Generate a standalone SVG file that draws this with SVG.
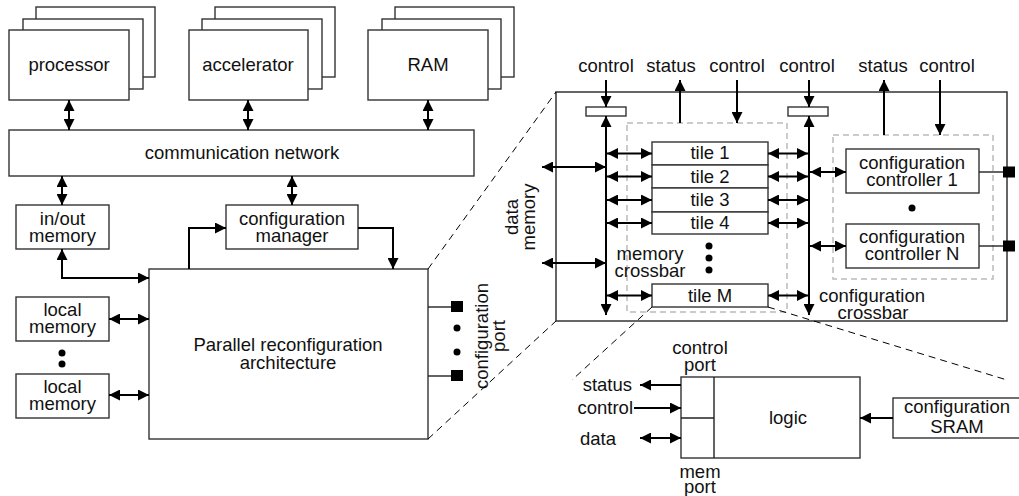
<svg xmlns="http://www.w3.org/2000/svg" width="1019" height="496" viewBox="0 0 1019 496">
  <style>
    text { font-family: "Liberation Sans", Arial, sans-serif; font-size: 18.5px; fill: #111; }
    .c { text-anchor: middle; }
    .e { text-anchor: end; }
    .box { fill: #fff; stroke: #333; stroke-width: 1.4; }
    .wire { fill: none; stroke: #000; stroke-width: 2; }
    .one { fill: none; stroke: #000; stroke-width: 2; marker-end: url(#ah); }
    .two { fill: none; stroke: #000; stroke-width: 2; marker-start: url(#ah); marker-end: url(#ah); }
    .zoomline { fill: none; stroke: #000; stroke-width: 1; stroke-dasharray: 7 5; }
    .group { fill: none; stroke: #bbb; stroke-width: 1.5; stroke-dasharray: 6 4; }
    .thin { fill: none; stroke: #222; stroke-width: 1.4; }
    .port { fill: #000; }
  </style>
  <defs>
    <marker id="ah" markerUnits="userSpaceOnUse" markerWidth="11" markerHeight="11" refX="11" refY="5.5" orient="auto-start-reverse">
      <path d="M0,0 L11,5.5 L0,11 z" fill="#000"/>
    </marker>
  </defs>

  <rect width="1019" height="496" fill="#fff"/>

  <!-- system level -->
  <g id="processor">
    <rect class="box" x="36" y="7" width="119" height="70"/>
    <rect class="box" x="23" y="19" width="120" height="70"/>
    <rect class="box" x="9" y="30" width="120" height="70"/>
    <text class="c" x="69" y="71">processor</text>
  </g>
  <g id="accelerator">
    <rect class="box" x="215" y="7" width="120" height="70"/>
    <rect class="box" x="202" y="19" width="120" height="70"/>
    <rect class="box" x="189" y="30" width="119" height="70"/>
    <text class="c" x="248" y="71">accelerator</text>
  </g>
  <g id="ram">
    <rect class="box" x="395" y="7" width="119" height="70"/>
    <rect class="box" x="382" y="19" width="119" height="70"/>
    <rect class="box" x="368" y="30" width="120" height="70"/>
    <text class="c" x="428" y="71">RAM</text>
  </g>
  <g id="communication-network">
    <rect class="box" x="9" y="130" width="465" height="46"/>
    <text class="c" x="242" y="159">communication network</text>
  </g>
  <g id="inout-memory">
    <rect class="box" x="16" y="205" width="93" height="44"/>
    <text class="c" x="62.5" y="225">in/out</text>
    <text class="c" x="62.5" y="242">memory</text>
  </g>
  <g id="configuration-manager">
    <rect class="box" x="226" y="205" width="132" height="44"/>
    <text class="c" x="292" y="225">configuration</text>
    <text class="c" x="292" y="242">manager</text>
  </g>
  <g id="local-memory-1">
    <rect class="box" x="16" y="297" width="93" height="44"/>
    <text class="c" x="62.5" y="316">local</text>
    <text class="c" x="62.5" y="333">memory</text>
  </g>
  <g id="local-memory-2">
    <rect class="box" x="16" y="374" width="93" height="44"/>
    <text class="c" x="62.5" y="393">local</text>
    <text class="c" x="62.5" y="410">memory</text>
  </g>
  <circle cx="62" cy="353" r="3.5" fill="#000"/>
  <circle cx="62" cy="364" r="3.5" fill="#000"/>

  <g id="parallel-architecture">
    <rect class="box" x="149" y="269" width="279" height="170"/>
    <text class="c" x="288" y="351">Parallel reconfiguration</text>
    <text class="c" x="288" y="369">architecture</text>
    <line class="thin" x1="428" y1="307" x2="451" y2="307"/>
    <line class="thin" x1="428" y1="376" x2="451" y2="376"/>
    <rect class="port" x="451" y="301" width="12" height="11"/>
    <rect class="port" x="451" y="370" width="12" height="11"/>
    <circle cx="457" cy="328" r="3.5" fill="#000"/>
    <circle cx="457" cy="352" r="3.5" fill="#000"/>
    <text class="c" transform="translate(488,336) rotate(-90)"><tspan x="0" y="0">configuration</tspan><tspan x="0" y="17">port</tspan></text>
  </g>

  <!-- detail of the architecture -->
  <g id="architecture-detail">
    <rect x="556" y="92" width="451" height="229" fill="#fff" stroke="#333" stroke-width="1.5"/>
    <rect class="group" x="627" y="123" width="160" height="189"/>
    <rect class="group" x="833" y="135" width="160" height="144"/>
    <text class="c" transform="translate(518,217) rotate(-90)"><tspan x="0" y="0">data</tspan><tspan x="0" y="17">memory</tspan></text>
    <text class="c" x="650" y="260">memory</text>
    <text class="c" x="650" y="277">crossbar</text>
    <text class="c" x="872" y="302">configuration</text>
    <text class="c" x="873" y="319">crossbar</text>
  </g>
  <g id="memory-crossbar-bar">
    <rect class="box" x="586" y="107" width="40" height="9"/>
  </g>
  <g id="config-crossbar-bar">
    <rect class="box" x="788" y="107" width="40" height="9"/>
  </g>
  <g id="tile-1">
    <rect class="box" x="652" y="142" width="116" height="23"/>
    <text class="c" x="710" y="159">tile 1</text>
  </g>
  <g id="tile-2">
    <rect class="box" x="652" y="165" width="116" height="23"/>
    <text class="c" x="710" y="182.5">tile 2</text>
  </g>
  <g id="tile-3">
    <rect class="box" x="652" y="188" width="116" height="24"/>
    <text class="c" x="710" y="206">tile 3</text>
  </g>
  <g id="tile-4">
    <rect class="box" x="652" y="212" width="116" height="22"/>
    <text class="c" x="710" y="229">tile 4</text>
  </g>
  <g id="tile-m">
    <rect class="box" x="652" y="284" width="116" height="23"/>
    <text class="c" x="710" y="301.5">tile M</text>
  </g>
  <circle cx="709" cy="246" r="3.5" fill="#000"/>
  <circle cx="709" cy="258" r="3.5" fill="#000"/>
  <circle cx="709" cy="270" r="3.5" fill="#000"/>
  <g id="config-controller-1">
    <rect class="box" x="846" y="149" width="133" height="44"/>
    <text class="c" x="912" y="168.5">configuration</text>
    <text class="c" x="912" y="186">controller 1</text>
    <line class="thin" x1="979" y1="172" x2="1003" y2="172"/>
    <rect class="port" x="1003" y="166.5" width="12" height="11"/>
  </g>
  <g id="config-controller-n">
    <rect class="box" x="846" y="224" width="133" height="44"/>
    <text class="c" x="912" y="243">configuration</text>
    <text class="c" x="912" y="260">controller N</text>
    <line class="thin" x1="979" y1="246" x2="1003" y2="246"/>
    <rect class="port" x="1003" y="240.5" width="12" height="11"/>
  </g>
  <circle cx="912" cy="208" r="3.5" fill="#000"/>

  <!-- top interface labels -->
  <g id="interface-labels">
    <text class="c" x="606" y="72">control</text>
    <text class="c" x="671" y="72">status</text>
    <text class="c" x="737" y="72">control</text>
    <text class="c" x="807" y="72">control</text>
    <text class="c" x="883" y="72">status</text>
    <text class="c" x="947" y="72">control</text>
  </g>

  <!-- tile internals -->
  <g id="tile-internals">
    <rect class="box" x="681" y="377" width="179" height="81"/>
    <line class="thin" x1="714" y1="377" x2="714" y2="458"/>
    <line class="thin" x1="681" y1="418" x2="714" y2="418"/>
    <text class="c" x="788" y="424">logic</text>
    <text class="c" x="700" y="354">control</text>
    <text class="c" x="700" y="371">port</text>
    <text class="c" x="700" y="478">mem</text>
    <text class="c" x="700" y="493">port</text>
    <text class="e" x="632" y="391">status</text>
    <text class="e" x="633" y="414">control</text>
    <text class="e" x="616" y="445">data</text>
  </g>
  <g id="configuration-sram">
    <rect class="box" x="893" y="398" width="130" height="40"/>
    <text class="c" x="957" y="413">configuration</text>
    <text class="c" x="957" y="433">SRAM</text>
  </g>

  <!-- connectors -->
  <g id="connectors">
    <line class="two" x1="69" y1="100" x2="69" y2="130"/>
    <line class="two" x1="248" y1="100" x2="248" y2="130"/>
    <line class="two" x1="428" y1="100" x2="428" y2="130"/>
    <line class="two" x1="62" y1="176" x2="62" y2="205"/>
    <line class="two" x1="292" y1="176" x2="292" y2="205"/>
    <polyline class="two" points="62,249 62,278 149,278"/>
    <polyline class="one" points="189,269 189,228 226,228"/>
    <polyline class="one" points="358,228 393,228 393,269"/>
    <line class="two" x1="109" y1="319" x2="149" y2="319"/>
    <line class="two" x1="109" y1="395" x2="149" y2="395"/>

    <!-- crossbar control and status -->
    <line class="one" x1="606" y1="80" x2="606" y2="107"/>
    <line class="two" x1="606" y1="116" x2="606" y2="315"/>
    <line class="one" x1="680" y1="123" x2="680" y2="80"/>
    <line class="one" x1="737" y1="80" x2="737" y2="123"/>
    <line class="one" x1="809" y1="80" x2="809" y2="107"/>
    <line class="two" x1="809" y1="116" x2="809" y2="315"/>
    <line class="one" x1="884" y1="135" x2="884" y2="80"/>
    <line class="one" x1="940" y1="80" x2="940" y2="135"/>

    <!-- data memory -->
    <line class="two" x1="542" y1="167" x2="606" y2="167"/>
    <line class="two" x1="542" y1="263" x2="606" y2="263"/>

    <!-- memory crossbar to tiles -->
    <line class="two" x1="607" y1="153.5" x2="652" y2="153.5"/>
    <line class="two" x1="607" y1="176.5" x2="652" y2="176.5"/>
    <line class="two" x1="607" y1="200" x2="652" y2="200"/>
    <line class="two" x1="607" y1="223" x2="652" y2="223"/>
    <line class="two" x1="607" y1="295.5" x2="652" y2="295.5"/>

    <!-- tiles to configuration crossbar -->
    <line class="two" x1="768" y1="153.5" x2="808" y2="153.5"/>
    <line class="two" x1="768" y1="176.5" x2="808" y2="176.5"/>
    <line class="two" x1="768" y1="200" x2="808" y2="200"/>
    <line class="two" x1="768" y1="223" x2="808" y2="223"/>
    <line class="two" x1="768" y1="295.5" x2="808" y2="295.5"/>

    <!-- configuration crossbar to controllers -->
    <line class="two" x1="810" y1="172" x2="846" y2="172"/>
    <line class="two" x1="810" y1="246" x2="846" y2="246"/>

    <!-- tile ports -->
    <line class="one" x1="681" y1="385" x2="640" y2="385"/>
    <line class="one" x1="634" y1="408" x2="681" y2="408"/>
    <line class="two" x1="640" y1="438" x2="681" y2="438"/>
    <line class="one" x1="893" y1="418" x2="860" y2="418"/>

    <!-- magnification guides -->
    <line class="zoomline" x1="428" y1="269" x2="556" y2="92"/>
    <line class="zoomline" x1="428" y1="439" x2="556" y2="321"/>
    <line class="zoomline" x1="652" y1="307" x2="572" y2="380"/>
    <line class="zoomline" x1="768" y1="307" x2="1007" y2="380"/>
  </g>
</svg>
